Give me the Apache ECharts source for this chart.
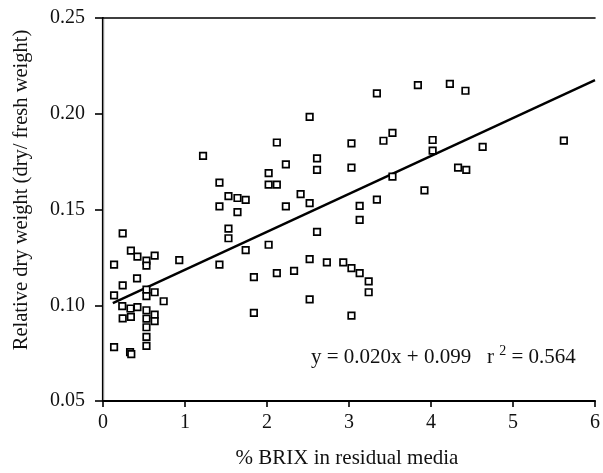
<!DOCTYPE html>
<html>
<head>
<meta charset="utf-8">
<script src="https://cdn.jsdelivr.net/npm/echarts@6/dist/echarts.min.js"></script>
<style>html,body{margin:0;padding:0;background:#fff}#c{width:603px;height:473px}</style>
</head>
<body>
<div id="c"></div>
<script>
const brix = [
  0.135,0.135,0.135,0.24,0.24,0.235,0.24,0.34,0.335,0.34,0.33,0.345,
  0.415,0.42,0.42,0.53,0.53,0.53,0.53,0.53,0.53,0.53,0.53,0.53,
  0.63,0.63,0.63,0.63,0.74,0.93,
  1.22,1.42,1.42,1.42,1.53,1.53,1.53,1.64,1.64,1.74,1.74,1.84,1.84,
  2.02,2.02,2.02,2.12,2.12,2.12,2.23,2.23,2.33,2.41,2.52,2.52,2.52,2.52,
  2.61,2.61,2.61,2.73,2.93,3.03,3.03,3.03,3.03,3.13,3.13,3.13,3.24,3.24,
  3.34,3.34,3.42,3.53,3.53,
  3.84,3.92,4.02,4.02,4.23,4.33,4.42,4.43,4.63,5.62
];
const dryWeight = [
  0.1212,0.1052,0.0781,0.1375,0.1104,0.0995,0.0931,0.1285,0.0983,0.0939,0.0755,0.0745,
  0.114,0.1254,0.099,0.1233,0.1207,0.1082,0.1048,0.0974,0.093,0.0885,0.0835,0.0788,
  0.1259,0.1068,0.0951,0.0917,0.1021,0.1236,
  0.178,0.164,0.1516,0.1212,0.157,0.140,0.135,0.156,0.1486,0.155,0.1288,0.1147,0.096,
  0.169,0.163,0.1316,0.185,0.163,0.1168,0.1736,0.1516,0.118,0.158,0.1533,0.1984,0.1241,0.1031,
  0.1767,0.1707,0.1383,0.1224,0.1224,0.1845,0.1719,0.1194,0.0946,0.1519,0.1446,0.1168,0.1125,0.1068,
  0.2106,0.1552,0.1859,0.190,0.1672,
  0.215,0.160,0.1863,0.1807,0.2156,0.1719,0.212,0.1707,0.1827,0.186
];
const fitX = [0.12, 6];
const fitY = [0.1011, 0.2176];
const xTicks = [0, 1, 2, 3, 4, 5, 6];
const yTicks = ['0.05', '0.10', '0.15', '0.20', '0.25'];
const equation = 'y = 0.020x + 0.099';
const rsq = '0.564';

const font = '"Liberation Serif","Times New Roman",serif';
const chart = echarts.init(document.getElementById('c'), null, {renderer: 'canvas'});
const pts = brix.map((x, i) => [x, dryWeight[i]]);
const fit = fitX.map((x, i) => [x, fitY[i]]);

chart.setOption({
  animation: false,
  backgroundColor: '#fff',
  grid: {left: 103, top: 18, right: 2, bottom: 72, show: false},
  xAxis: [{
    type: 'value', min: 0, max: 6, interval: 1,
    axisLine: {show: true, onZero: false, lineStyle: {color: '#000', width: 2.2}},
    axisTick: {show: true, inside: false, length: 6, lineStyle: {color: '#000', width: 1.6}},
    axisLabel: {margin: 12, color: '#111', fontFamily: font, fontSize: 20,
      formatter: v => String(xTicks[Math.round(v)])},
    splitLine: {show: false}
  }, {
    type: 'value', min: 0, max: 6, interval: 1, position: 'top',
    axisLine: {show: true, lineStyle: {color: '#000', width: 1.6}},
    axisTick: {show: false}, axisLabel: {show: false}, splitLine: {show: false}
  }],
  yAxis: [{
    type: 'value', min: 0.05, max: 0.25, interval: 0.05,
    axisLine: {show: true, onZero: false, lineStyle: {color: '#000', width: 2.2}},
    axisTick: {show: true, inside: false, length: 8, lineStyle: {color: '#000', width: 1.6}},
    axisLabel: {margin: 18, color: '#111', fontFamily: font, fontSize: 20,
      formatter: v => yTicks[Math.round((v - 0.05) / 0.05)]},
    splitLine: {show: false}
  }, {
    type: 'value', min: 0.05, max: 0.25, interval: 0.05, position: 'right',
    axisLine: {show: true, lineStyle: {color: '#888', width: 1}},
    axisTick: {show: false}, axisLabel: {show: false}, splitLine: {show: false}
  }],
  series: [{
    type: 'line', data: fit, symbol: 'none', silent: true,
    lineStyle: {color: '#000', width: 2.4}, z: 2
  }, {
    type: 'scatter', data: pts, symbol: 'rect', symbolSize: 6.5,
    itemStyle: {color: '#fff', borderColor: '#000', borderWidth: 1.7, opacity: 1}, z: 3
  }],
  graphic: [{
    type: 'text', left: 311, top: 344,
    style: {
      text: '{a|' + equation + '   r }{s|2}{a| = ' + rsq + '}',
      rich: {
        a: {fontFamily: font, fontSize: 21, fill: '#111', verticalAlign: 'bottom', lineHeight: 24},
        s: {fontFamily: font, fontSize: 14, fill: '#111', verticalAlign: 'top', lineHeight: 24, padding: [0, 0, 9, 0]}
      }
    }
  }, {
    type: 'text', x: 347, y: 458,
    style: {text: '% BRIX in residual media', fontFamily: font, fontSize: 21, fill: '#111',
      textAlign: 'center', textVerticalAlign: 'middle'}
  }, {
    type: 'text', x: 22, y: 190, rotation: Math.PI / 2,
    style: {text: 'Relative dry weight (dry/ fresh weight)', fontFamily: font, fontSize: 20.5, fill: '#111',
      textAlign: 'center', textVerticalAlign: 'middle'}
  }]
});
</script>
</body>
</html>
